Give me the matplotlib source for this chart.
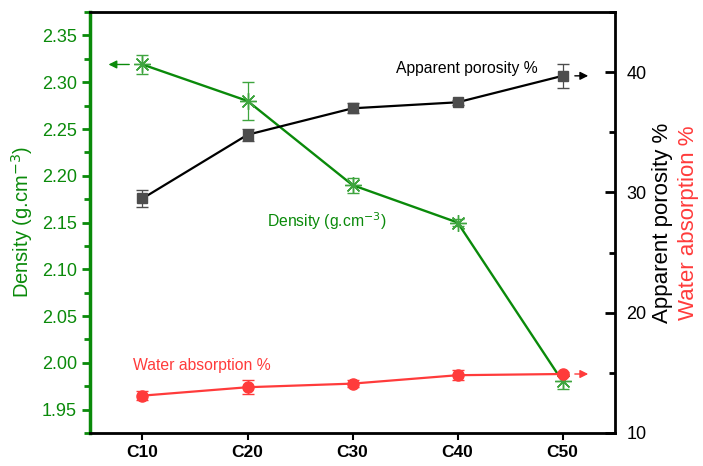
import numpy as np
import matplotlib.pyplot as plt
from matplotlib.ticker import MultipleLocator

plt.rcParams['font.family'] = ['Liberation Sans', 'DejaVu Sans']

samples = ['C10', 'C20', 'C30', 'C40', 'C50']
density = [2.319, 2.280, 2.190, 2.150, 1.980]
density_err = [0.010, 0.020, 0.008, 0.004, 0.008]
porosity = [29.5, 34.8, 37.0, 37.5, 39.7]
porosity_err = [0.7, 0.5, 0.4, 0.2, 1.0]
absorption = [13.1, 13.8, 14.1, 14.8, 14.9]
absorption_err = [0.4, 0.6, 0.3, 0.4, 0.2]

GREEN, LGREEN, RED, GREY = '#0a8a0a', '#3fa53f', '#ff3b3b', '#4d4d4d'
x = np.arange(1, len(samples) + 1)

fig = plt.figure(figsize=(7.03, 4.66), dpi=100)
ax = fig.add_axes([0.128, 0.071, 0.747, 0.903])
ax2 = ax.twinx()

# densidade (eixo esquerdo)
ax.plot(x, density, color=GREEN, lw=1.7, zorder=2)
ax.errorbar(x, density, yerr=density_err, ls='none', marker=(8, 2, 0),
            ms=12, mew=1, mec=LGREEN, capsize=4, elinewidth=0.9, ecolor=LGREEN, zorder=3)
ax.set_xlim(0.5, 5.5)
ax.set_ylim(1.925, 2.375)
ax.set_xticks(x)
ax.set_xticklabels(samples, fontweight='bold', fontsize=12.5)
ax.yaxis.set_major_locator(MultipleLocator(0.05))
ax.yaxis.set_minor_locator(MultipleLocator(0.025))
ax.tick_params(axis='y', colors=GREEN, labelsize=13, width=2, length=6)
ax.tick_params(axis='y', which='minor', colors=GREEN, width=2, length=4)
ax.tick_params(axis='x', width=1.5, length=5)
ax.set_ylabel('Density (g.cm$^{-3}$)', color=GREEN, fontsize=14.5, labelpad=5)
ax.spines['left'].set_color(GREEN)
ax.spines['left'].set_linewidth(2.5)
for s in ['top', 'bottom']:
    ax.spines[s].set_linewidth(2)

# porosidade e absorcao (eixo direito)
ax2.errorbar(x, porosity, yerr=porosity_err, color='black', lw=1.6, marker='s',
             ms=7, mfc=GREY, mec=GREY, capsize=4, elinewidth=0.9, ecolor=GREY, zorder=3)
ax2.errorbar(x, absorption, yerr=absorption_err, color=RED, lw=1.6, marker='o',
             ms=8, capsize=4, elinewidth=0.9, ecolor=RED, zorder=3)
ax2.set_ylim(10, 45)
ax2.yaxis.set_major_locator(MultipleLocator(10))
ax2.yaxis.set_minor_locator(MultipleLocator(5))
ax2.tick_params(axis='y', direction='in', labelsize=13, width=2, length=7, pad=8)
ax2.tick_params(axis='y', which='minor', direction='in', width=2, length=4)
ax2.spines['right'].set_linewidth(2)
ax2.spines['left'].set_visible(False)
fig.text(0.943, 0.522, 'Apparent porosity %', rotation=90, fontsize=16,
         ha='center', va='center')
fig.text(0.979, 0.522, 'Water absorption %', rotation=90, fontsize=16,
         color=RED, ha='center', va='center')

# setas indicando o eixo
ax.annotate('', xy=(0.65, density[0]), xytext=(0.9, density[0]),
            arrowprops=dict(arrowstyle='-|>', color=GREEN, lw=1, mutation_scale=12))
ax2.annotate('', xy=(5.27, porosity[-1]), xytext=(5.09, porosity[-1]),
             arrowprops=dict(arrowstyle='-|>', color='black', lw=1, mutation_scale=12))
ax2.annotate('', xy=(5.27, absorption[-1]), xytext=(5.09, absorption[-1]),
             arrowprops=dict(arrowstyle='-|>', color=RED, lw=1, mutation_scale=12))

ax2.text(3.41, 39.9, 'Apparent porosity %', fontsize=11.3, color='black')
ax.text(2.19, 2.145, 'Density (g.cm$^{-3}$)', fontsize=11.3, color=GREEN)
ax2.text(0.905, 15.2, 'Water absorption %', fontsize=11.3, color=RED)

fig.savefig('out.png', dpi=100)
